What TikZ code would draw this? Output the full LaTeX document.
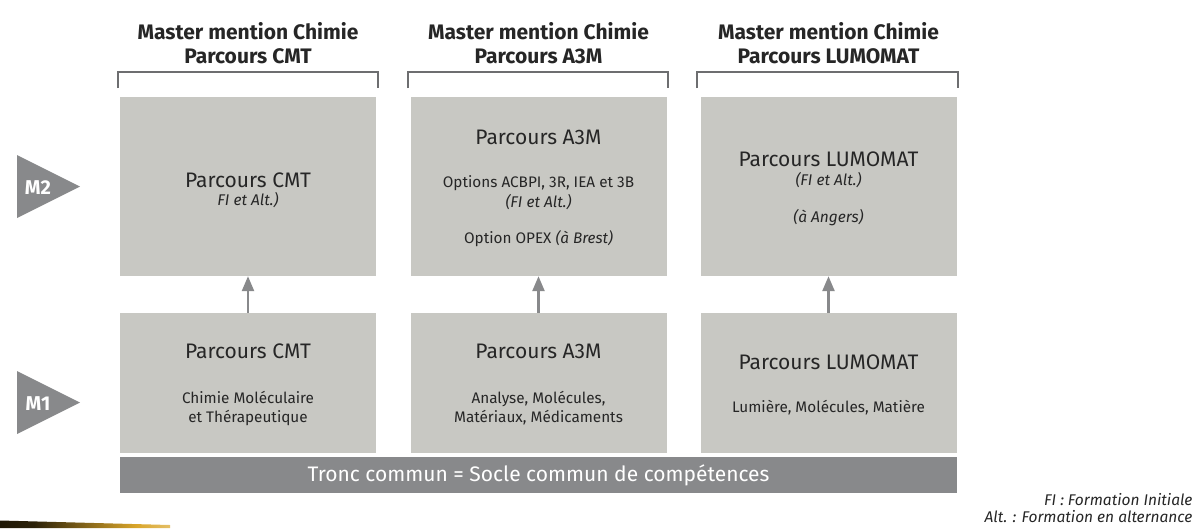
\documentclass[tikz,border=0pt]{standalone}
\usepackage{fontspec}
\setmainfont{Fira Sans}
\usetikzlibrary{arrows.meta}
\definecolor{boxc}{HTML}{C8C8C3}
\definecolor{darkc}{HTML}{88898B}
\definecolor{brc}{HTML}{6D6E70}
\definecolor{txtc}{HTML}{262626}
\definecolor{goldc}{HTML}{D9A52A}
\pgfdeclarehorizontalshading{swoosh}{100bp}{color(0bp)=(black); color(35bp)=(black!80!goldc); color(65bp)=(goldc); color(100bp)=(white)}
\tikzset{
  x=1pt,y=-1pt,
  box/.style={fill=boxc, draw=none, minimum width=256pt, inner sep=0pt},
  m2box/.style={box, minimum height=179pt},
  m1box/.style={box, minimum height=140pt},
  ttl/.style={font=\fontsize{21}{24.5}\selectfont\bfseries, text=txtc, align=center},
  big/.style={font=\fontsize{21}{24}\selectfont, text=txtc},
  sub/.style={font=\fontsize{15.3}{19}\selectfont, text=txtc, align=center},
  it/.style={font=\fontsize{15.5}{17}\selectfont\itshape, text=txtc},
  brk/.style={draw=brc, line width=2pt},
  uparrow/.style={draw=darkc, line width=2.5pt, -{Triangle[width=12pt,length=15pt]}},
  tri/.style={fill=darkc, draw=none},
  lvl/.style={font=\fontsize{20}{22}\selectfont\bfseries, text=white},
  leg/.style={font=\fontsize{15.5}{17}\selectfont\itshape, text=txtc, anchor=east},
}
\begin{document}
\begin{tikzpicture}
\useasboundingbox (0,0) rectangle (1197,528);
\fill[white] (0,0) rectangle (1197,528);

% titles
\node[ttl] (t1) at (248,43) {Master mention Chimie\\Parcours CMT};
\node[ttl] (t2) at (538.5,43) {Master mention Chimie\\Parcours A3M};
\node[ttl] (t3) at (828.5,43) {Master mention Chimie\\Parcours LUMOMAT};

% brackets
\draw[brk] (118,88) -- (118,72) -- (378,72) -- (378,88);
\draw[brk] (408,88) -- (408,72) -- (668,72) -- (668,88);
\draw[brk] (697,88) -- (697,72) -- (958,72) -- (958,88);

% M2 boxes
\node[m2box] (a2) at (248,186.5) {};
\node[m2box] (b2) at (538.5,186.5) {};
\node[m2box] (c2) at (828.5,186.5) {};
% M1 boxes
\node[m1box] (a1) at (248,383) {};
\node[m1box] (b1) at (538.5,383) {};
\node[m1box] (c1) at (828.5,383) {};

% arrows
\draw[uparrow] (a1.north) -- (a2.south);
\draw[uparrow] (b1.north) -- (b2.south);
\draw[uparrow] (c1.north) -- (c2.south);

% M2 texts
\node[big] (a2t) at (248,180) {Parcours CMT};
\node[it] (a2s) at (248,200) {FI et Alt.)};
\node[big] (b2t) at (538.5,137) {Parcours A3M};
\node[sub] (b2s) at (538.5,183) {Options ACBPI, 3R, IEA et 3B};
\node[it] (b2f) at (538.5,202) {(FI et Alt.)};
\node[sub] (b2o) at (538.5,239) {Option OPEX \textit{(à Brest)}};
\node[big] (c2t) at (828.5,159) {Parcours LUMOMAT};
\node[it] (c2f) at (828.5,180) {(FI et Alt.)};
\node[it] (c2a) at (828.5,218) {(à Angers)};

% M1 texts
\node[big] (a1t) at (248,351) {Parcours CMT};
\node[sub] (a1s) at (248,408) {Chimie Moléculaire\\et Thérapeutique};
\node[big] (b1t) at (538.5,351) {Parcours A3M};
\node[sub] (b1s) at (538.5,408) {Analyse, Molécules,\\Matériaux, Médicaments};
\node[big] (c1t) at (828.5,362) {Parcours LUMOMAT};
\node[sub] (c1s) at (828.5,408) {Lumière, Molécules, Matière};

% tronc commun
\node[fill=darkc, minimum width=837pt, minimum height=36pt, inner sep=0pt, font=\fontsize{21}{24}\selectfont, text=white] (tc) at (538.5,475) {Tronc commun = Socle commun de compétences};

% level triangles
\fill[tri] (17,155) -- (17,218) -- (80,186.5) -- cycle;
\node[lvl] (m2) at (38,188) {M2};
\fill[tri] (17,371) -- (17,434) -- (80,402.5) -- cycle;
\node[lvl] (m1) at (38,404) {M1};

% legend
\node[leg] (l1) at (1196,500) {FI : Formation Initiale};
\node[leg] (l2) at (1196,517) {Alt. : Formation en alternance};

% swoosh
\shade[shading=swoosh] (0,520.5) -- (170,525) -- (170,528) -- (0,528) -- cycle;
\end{tikzpicture}
\end{document}
